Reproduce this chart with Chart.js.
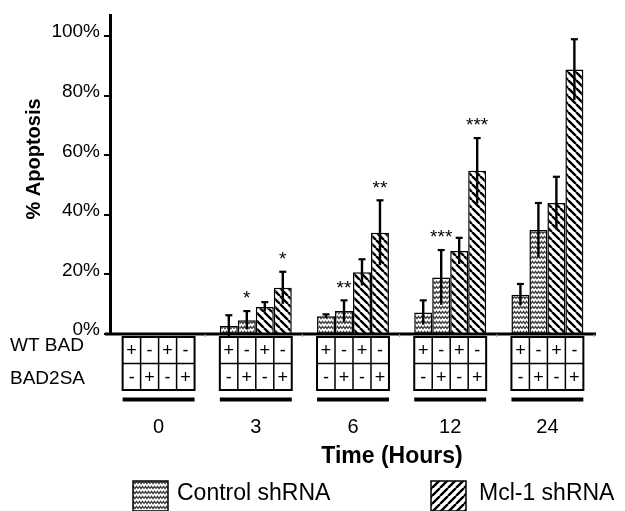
<!DOCTYPE html>
<html>
<head>
<meta charset="utf-8">
<script src="https://cdn.jsdelivr.net/npm/chart.js@4/dist/chart.umd.min.js"></script>
<style>
html,body{margin:0;padding:0;background:#fff;}
#wrap{width:625px;height:511px;position:relative;}
</style>
</head>
<body>
<div id="wrap"><canvas id="c" width="625" height="511"></canvas></div>
<script>
// ---- data ----
const categories = ['0', '3', '6', '12', '24'];
const ctrlWT    = [0, 2.7, 6.0, 7.2, 13.2];
const ctrl2SA   = [0, 4.6, 7.7, 19.0, 34.9];
const mclWT     = [0, 9.1, 20.7, 27.9, 44.0];
const mcl2SA    = [0, 15.5, 34.0, 54.8, 88.8];
const errCtrlWT  = [0, 3.6, 0.6, 4.1, 3.6];
const errCtrl2SA = [0, 3.1, 3.6, 9.2, 9.1];
const errMclWT   = [0, 1.6, 4.4, 4.4, 8.8];
const errMcl2SA  = [0, 5.4, 10.9, 11.0, 10.2];
const starsCtrl2SA = ['', '*', '**', '***', ''];
const starsMcl2SA  = ['', '*', '**', '***', ''];
const wtBadRow   = ['+', '-', '+', '-'];
const bad2saRow  = ['-', '+', '-', '+'];
const yTicks = [0, 20, 40, 60, 80, 100];
const legendLabels = ['Control shRNA', 'Mcl-1 shRNA'];

const FONT = '"Liberation Sans", Arial, sans-serif';

// ---- patterns ----
function wavyPattern() {
  const c = document.createElement('canvas');
  c.width = 6; c.height = 5;
  const g = c.getContext('2d');
  g.fillStyle = '#fff'; g.fillRect(0, 0, 6, 5);
  g.strokeStyle = '#333'; g.lineWidth = 1.2;
  g.beginPath();
  g.moveTo(0, 3.6); g.lineTo(1.5, 1.4); g.lineTo(3, 3.6); g.lineTo(4.5, 1.4); g.lineTo(6, 3.6);
  g.stroke();
  return g.createPattern(c, 'repeat');
}
function hatchPattern(forward) {
  const s = 8;
  const c = document.createElement('canvas');
  c.width = s; c.height = s;
  const g = c.getContext('2d');
  g.fillStyle = '#fff'; g.fillRect(0, 0, s, s);
  g.strokeStyle = '#000'; g.lineWidth = 2.4;
  g.beginPath();
  for (let k = -1; k <= 1; k++) {
    if (forward) { g.moveTo(k * s, s); g.lineTo(k * s + s, 0); }
    else { g.moveTo(k * s, 0); g.lineTo(k * s + s, s); }
  }
  g.stroke();
  return g.createPattern(c, 'repeat');
}
const pWavy = wavyPattern();
const pBack = hatchPattern(false);
const pFwd = hatchPattern(true);

const errs = [errCtrlWT, errCtrl2SA, errMclWT, errMcl2SA];
const stars = [null, starsCtrl2SA, null, starsMcl2SA];

const overlay = {
  id: 'overlay',
  afterDatasetsDraw(chart) {
    const ctx = chart.ctx;
    const y = chart.scales.y;
    ctx.save();
    chart.data.datasets.forEach((ds, di) => {
      const meta = chart.getDatasetMeta(di);
      meta.data.forEach((bar, i) => {
        const v = ds.data[i], e = errs[di][i];
        if (e > 0) {
          const yt = y.getPixelForValue(v + e), yb = y.getPixelForValue(v - e);
          ctx.strokeStyle = '#000'; ctx.lineWidth = 2.4;
          ctx.beginPath(); ctx.moveTo(bar.x, yb); ctx.lineTo(bar.x, yt); ctx.stroke();
          ctx.lineWidth = 2.2;
          ctx.beginPath(); ctx.moveTo(bar.x - 3.5, yt); ctx.lineTo(bar.x + 3.5, yt); ctx.stroke();
        }
        if (stars[di] && stars[di][i]) {
          const yt = y.getPixelForValue(v + e);
          ctx.fillStyle = '#000'; ctx.font = '19px ' + FONT;
          ctx.textAlign = 'center'; ctx.textBaseline = 'middle';
          ctx.fillText(stars[di][i], bar.x, yt - 12);
        }
      });
    });
    ctx.restore();
  },
  afterDraw(chart) {
    const ctx = chart.ctx;
    const ca = chart.chartArea;
    ctx.save();
    // x axis line
    ctx.strokeStyle = '#000'; ctx.lineWidth = 3;
    ctx.beginPath(); ctx.moveTo(ca.left - 5, ca.bottom); ctx.lineTo(ca.right, ca.bottom); ctx.stroke();
    // minor ticks at group boundaries
    const w = (ca.right - ca.left) / categories.length;
    ctx.strokeStyle = '#999'; ctx.lineWidth = 1;
    for (let k = 1; k <= categories.length; k++) {
      const x = ca.left + k * w - 2;
      ctx.beginPath(); ctx.moveTo(x, ca.bottom); ctx.lineTo(x, ca.bottom + 3); ctx.stroke();
    }
    // tables
    const metas = [0, 1, 2, 3].map(d => chart.getDatasetMeta(d));
    const top = ca.bottom + 3, rh = 26.5;
    categories.forEach((lab, i) => {
      const bars = metas.map(m => m.data[i]);
      const bw = bars[0].width;
      const left = bars[0].x - bw / 2, right = bars[3].x + bw / 2;
      ctx.strokeStyle = '#000';
      ctx.lineWidth = 1.5;
      for (let c = 1; c < 4; c++) {
        const x = bars[c].x - bw / 2;
        ctx.beginPath(); ctx.moveTo(x, top); ctx.lineTo(x, top + 2 * rh); ctx.stroke();
      }
      ctx.beginPath(); ctx.moveTo(left, top + rh); ctx.lineTo(right, top + rh); ctx.stroke();
      ctx.lineWidth = 2;
      ctx.strokeRect(left, top, right - left, 2 * rh);
      ctx.fillStyle = '#000'; ctx.font = '18px ' + FONT;
      ctx.textAlign = 'center'; ctx.textBaseline = 'middle';
      bars.forEach((b, c) => {
        ctx.fillText(wtBadRow[c], b.x, top + rh / 2 + 1);
        ctx.fillText(bad2saRow[c], b.x, top + rh * 1.5 + 1);
      });
      // thick line
      ctx.fillRect(left, top + 2 * rh + 7.5, right - left, 4);
      // category label
      ctx.font = '20px ' + FONT;
      ctx.fillText(lab, (left + right) / 2, 427);
    });
    // row labels
    ctx.textAlign = 'left'; ctx.textBaseline = 'middle'; ctx.font = '19px ' + FONT;
    ctx.fillText('WT BAD', 10, 346);
    ctx.fillText('BAD2SA', 10, 379);
    // axis titles
    ctx.font = 'bold 23px ' + FONT; ctx.textAlign = 'center';
    ctx.fillText('Time (Hours)', 392, 457);
    ctx.save();
    ctx.translate(34, 159); ctx.rotate(-Math.PI / 2);
    ctx.font = 'bold 20px ' + FONT;
    ctx.fillText('% Apoptosis', 0, 0);
    ctx.restore();
    // legend
    const items = [[133, pWavy, legendLabels[0], 177], [431, pFwd, legendLabels[1], 479]];
    items.forEach(([bx, pat, txt, tx]) => {
      ctx.fillStyle = pat; ctx.fillRect(bx, 481, 35, 30);
      ctx.strokeStyle = '#000'; ctx.lineWidth = 1.5; ctx.strokeRect(bx, 481, 35, 30);
      ctx.fillStyle = '#000'; ctx.font = '23px ' + FONT; ctx.textAlign = 'left';
      ctx.fillText(txt, tx, 494);
    });
    ctx.restore();
  }
};

const mk = (label, data, pat) => ({
  label, data, backgroundColor: pat, borderColor: '#000', borderWidth: 1.5,
  categoryPercentage: 0.74, barPercentage: 1.0
});

new Chart(document.getElementById('c'), {
  type: 'bar',
  data: {
    labels: categories,
    datasets: [
      mk('Control shRNA / WT BAD', ctrlWT, pWavy),
      mk('Control shRNA / BAD2SA', ctrl2SA, pWavy),
      mk('Mcl-1 shRNA / WT BAD', mclWT, pBack),
      mk('Mcl-1 shRNA / BAD2SA', mcl2SA, pBack)
    ]
  },
  options: {
    responsive: false,
    animation: false,
    layout: { padding: { left: 0, right: 29, top: 12, bottom: 0 } },
    plugins: { legend: { display: false }, tooltip: { enabled: false } },
    scales: {
      x: {
        grid: { display: false },
        border: { display: false },
        ticks: { display: false },
        afterFit(s) { s.height = 177; }
      },
      y: {
        min: 0, max: 107,
        afterBuildTicks(s) { s.ticks = yTicks.map(v => ({ value: v })); },
        afterFit(s) { s.width = 110; },
        grid: { display: true, drawOnChartArea: false, drawTicks: true, tickLength: 6, color: '#000', lineWidth: 2 },
        border: { display: true, color: '#000', width: 3 },
        ticks: {
          color: '#000', font: { size: 19, family: FONT }, padding: 4, labelOffset: -4,
          callback: v => v + '%'
        }
      }
    }
  },
  plugins: [overlay]
});
</script>
</body>
</html>
